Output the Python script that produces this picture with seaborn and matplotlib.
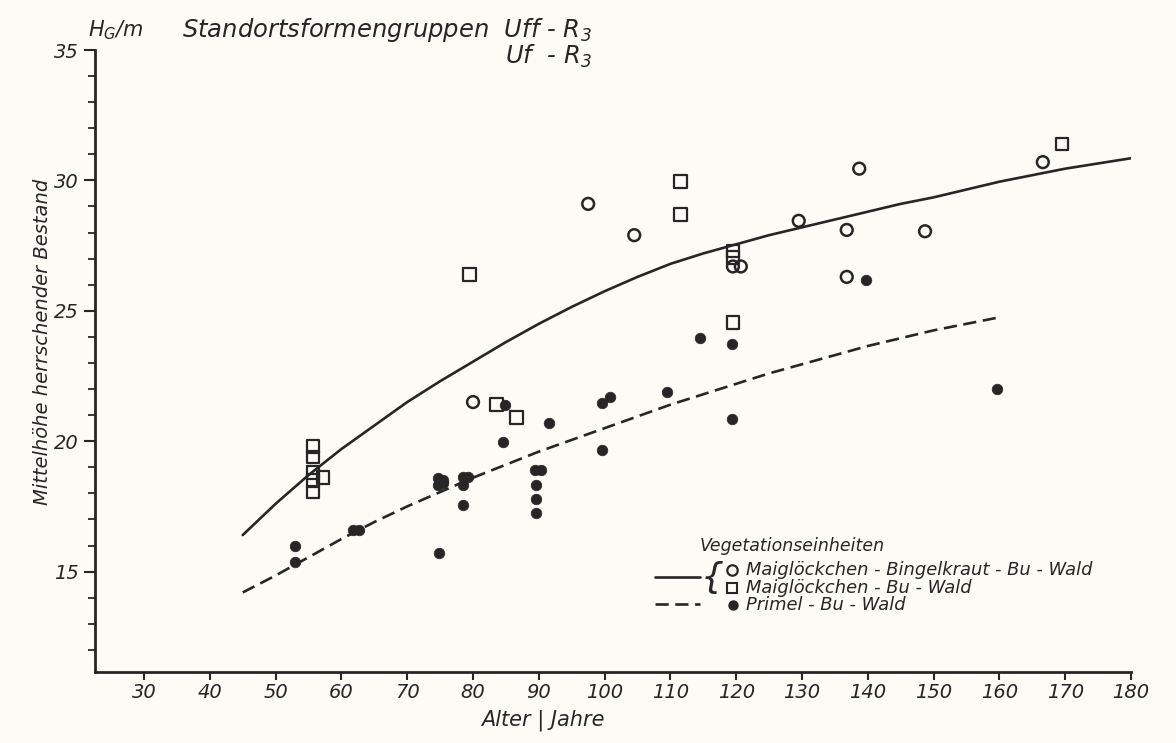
import pandas as pd
import seaborn as sns
import matplotlib.pyplot as plt
from matplotlib.lines import Line2D
from matplotlib.ticker import MultipleLocator

sns.set_theme(style="white")
plt.rcParams['font.family'] = ['DejaVu Sans']
plt.rcParams['font.style'] = 'italic'
plt.rcParams['mathtext.default'] = 'it'

ink = "#262626"
paper = "#fcfbf6"

# Maiglöckchen-Bingelkraut-Bu-Wald (open circles)
circ_age = [80, 97.5, 104.5, 119.5, 120.7, 129.5, 136.8, 136.8, 138.7, 148.7, 166.6]
circ_h = [21.5, 29.1, 27.9, 26.7, 26.7, 28.45, 28.1, 26.3, 30.45, 28.05, 30.7]

# Maiglöckchen-Bu-Wald (open squares)
sq_age = [55.7, 55.7, 55.7, 55.7, 55.7, 57.2, 79.5, 83.6, 86.6, 111.5, 111.5,
          119.5, 119.5, 119.5, 169.5]
sq_h = [19.8, 19.4, 18.8, 18.5, 18.05, 18.6, 26.4, 21.4, 20.9, 29.95, 28.7,
        27.3, 27.05, 24.55, 31.4]

# Primel-Bu-Wald (filled dots)
dot_age = [53, 53, 61.8, 62.6, 74.7, 75.5, 74.7, 75.5, 74.9, 78.5, 79.3, 78.5,
           78.5, 84.5, 84.8, 91.5, 89.4, 90.4, 89.5, 89.5, 89.5, 99.6, 99.6,
           100.8, 109.5, 114.5, 119.4, 119.4, 139.7, 159.7]
dot_h = [15.99, 15.35, 16.59, 16.59, 18.57, 18.5, 18.31, 18.4, 15.7, 18.63,
         18.63, 18.31, 17.57, 19.97, 21.4, 20.68, 18.89, 18.89, 18.31, 17.77,
         17.25, 21.47, 19.66, 21.7, 21.9, 23.96, 23.74, 20.87, 26.2, 22.0]

# curves
solid_age = [45, 50, 55, 60, 65, 70, 75, 80, 85, 90, 95, 100, 105, 110, 115,
             120, 125, 130, 135, 140, 145, 150, 155, 160, 165, 170, 175, 180]
solid_h = [16.4, 17.6, 18.7, 19.7, 20.6, 21.5, 22.3, 23.05, 23.8, 24.5, 25.15,
           25.75, 26.3, 26.8, 27.2, 27.55, 27.9, 28.2, 28.5, 28.8, 29.1, 29.35,
           29.65, 29.95, 30.2, 30.45, 30.65, 30.85]
dash_age = [45, 50, 55, 60, 65, 70, 75, 80, 85, 90, 95, 100, 105, 110, 115,
            120, 125, 130, 135, 140, 145, 150, 155, 160]
dash_h = [14.2, 14.85, 15.55, 16.25, 16.9, 17.5, 18.05, 18.6, 19.1, 19.6, 20.05,
          20.5, 20.95, 21.4, 21.8, 22.2, 22.6, 22.95, 23.3, 23.65, 23.95, 24.25,
          24.5, 24.75]

x_ticks = list(range(30, 190, 10))
y_ticks = [15, 20, 25, 30, 35]

circ = pd.DataFrame({"age": circ_age, "h": circ_h})
sq = pd.DataFrame({"age": sq_age, "h": sq_h})
dots = pd.DataFrame({"age": dot_age, "h": dot_h})
solid = pd.DataFrame({"age": solid_age, "h": solid_h})
dash = pd.DataFrame({"age": dash_age, "h": dash_h})

fig = plt.figure(figsize=(11.76, 7.43), dpi=100, facecolor=paper)
ax = fig.add_axes([95 / 1176, 1 - 672 / 743, (1131 - 95) / 1176, (672 - 50) / 743])
ax.set_facecolor(paper)

sns.lineplot(data=solid, x="age", y="h", ax=ax, color=ink, lw=1.9, zorder=2)
sns.lineplot(data=dash, x="age", y="h", ax=ax, color=ink, lw=1.9,
             zorder=2).lines[-1].set_dashes([5, 2.5])
sns.scatterplot(data=dots, x="age", y="h", ax=ax, color=ink, s=58,
                edgecolor=ink, linewidth=0.5, zorder=3)
sns.scatterplot(data=circ, x="age", y="h", ax=ax, marker="o", s=72,
                facecolor="none", edgecolor=ink, linewidth=1.8, zorder=4)
sns.scatterplot(data=sq, x="age", y="h", ax=ax, marker="s", s=82,
                facecolor="none", edgecolor=ink, linewidth=1.6, zorder=4)

ax.set_xlim(22.55, 180)
ax.set_ylim(11.15, 35)
ax.set_xticks(x_ticks)
ax.set_yticks(y_ticks)
ax.yaxis.set_minor_locator(MultipleLocator(1))
ax.set_xlabel("")
ax.set_ylabel("")
for s in ["top", "right"]:
    ax.spines[s].set_visible(False)
for s in ["left", "bottom"]:
    ax.spines[s].set_color(ink)
    ax.spines[s].set_linewidth(2)
ax.tick_params(axis="x", which="major", direction="out", length=6, width=1.5,
               color=ink, labelsize=14, labelcolor=ink, pad=2, bottom=True)
ax.tick_params(axis="y", which="major", direction="out", length=8, width=1.5,
               color=ink, labelsize=14, labelcolor=ink, pad=4, left=True)
ax.tick_params(axis="y", which="minor", direction="out", length=5, width=1.3,
               color=ink, left=True)

# titles and axis texts
fig.text(88 / 1176, 1 - 30 / 743, r"H$_\mathregular{G}$/m", fontsize=15,
         color=ink, va="center", ha="left")
fig.text(592 / 1176, 1 - 30 / 743, r"Standortsformengruppen  Uff - R$_3$",
         fontsize=17.5, color=ink, va="center", ha="right")
fig.text(592 / 1176, 1 - 56 / 743, r"Uf  - R$_3$", fontsize=17.5, color=ink,
         va="center", ha="right")
fig.text(43 / 1176, 1 - 342 / 743, "Mittelhöhe herrschender Bestand",
         fontsize=14, color=ink, rotation=90, va="center", ha="center")
fig.text(543 / 1176, 1 - 720 / 743, "Alter | Jahre", fontsize=15, color=ink,
         va="center", ha="center")

# hand-drawn style legend
def fx(px):
    return px / 1176

def fy(py):
    return 1 - py / 743

fig.text(fx(700), fy(546), "Vegetationseinheiten", fontsize=12.5, color=ink,
         va="center", ha="left")
fig.add_artist(Line2D([fx(655), fx(700)], [fy(577), fy(577)], color=ink, lw=1.9,
                      transform=fig.transFigure))
fig.add_artist(Line2D([fx(655), fx(700)], [fy(604), fy(604)], color=ink, lw=1.9,
                      dashes=[5, 2.5], transform=fig.transFigure))
fig.text(fx(724), fy(578), "{", fontsize=26, color=ink, va="center", ha="right")
fig.add_artist(Line2D([fx(732)], [fy(570)], marker="o", ms=7.5, mfc="none",
                      mec=ink, mew=1.6, transform=fig.transFigure))
fig.add_artist(Line2D([fx(732)], [fy(588)], marker="s", ms=7.5, mfc="none",
                      mec=ink, mew=1.5, transform=fig.transFigure))
fig.add_artist(Line2D([fx(733)], [fy(605)], marker="o", ms=6.5, mfc=ink,
                      mec=ink, transform=fig.transFigure))
legend_names = ["Maiglöckchen - Bingelkraut - Bu - Wald",
                "Maiglöckchen - Bu - Wald", "Primel - Bu - Wald"]
for name, py in zip(legend_names, [570, 588, 605]):
    fig.text(fx(746), fy(py), name, fontsize=12.9, color=ink, va="center",
             ha="left")

plt.savefig("out.png", dpi=100, facecolor=paper)
